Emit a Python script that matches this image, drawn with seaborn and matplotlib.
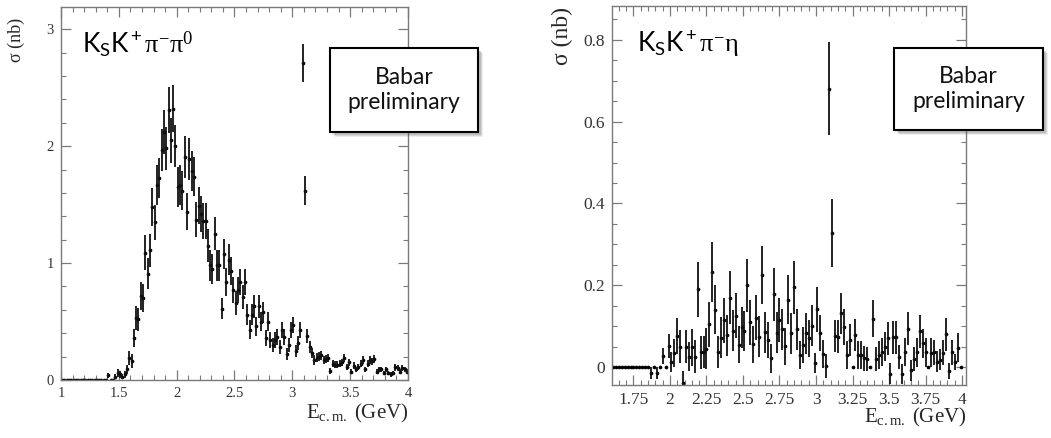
import numpy as np
import pandas as pd
import seaborn as sns
import matplotlib.pyplot as plt
from matplotlib.patches import Rectangle
from matplotlib.ticker import MultipleLocator, FuncFormatter

# K_S K+ pi- pi0 : 0.02 GeV bins, 1.0 - 4.0 GeV
kkpp_ecm = np.round(np.arange(1.01, 4.0, 0.02), 2)
kkpp_sigma = [0, 0, 0, 0, 0, 0, 0, 0, 0, 0, 0, 0, 0, 0, 0, 0, 0, 0, 0, 0,
              0.04, 0.0, 0.0, 0.03, 0.06, 0.05, 0.03, 0.05, 0.09, 0.19,
              0.16, 0.36, 0.53, 0.52, 0.72, 0.70, 1.09, 0.91, 1.11, 1.48,
              1.35, 1.67, 1.73, 1.97, 2.12, 1.98, 2.31, 2.05, 2.32, 2.00,
              1.65, 1.67, 1.62, 1.91, 1.44, 1.89, 1.79, 1.74, 1.37, 1.49,
              1.42, 1.36, 1.36, 1.15, 0.98, 0.95, 1.25, 0.98, 0.98, 0.61,
              1.08, 0.84, 1.03, 0.93, 0.77, 0.66, 0.77, 0.84, 0.71, 0.84,
              0.56, 0.43, 0.56, 0.63, 0.46, 0.63, 0.50, 0.58, 0.36, 0.50,
              0.34, 0.30, 0.34, 0.37, 0.28, 0.43, 0.37, 0.22, 0.30, 0.43,
              0.47, 0.25, 0.32, 0.43, 2.71, 1.62, 0.38, 0.28, 0.23, 0.17,
              0.19, 0.20, 0.21, 0.17, 0.18, 0.19, 0.08, 0.14, 0.13, 0.13,
              0.14, 0.15, 0.19, 0.11, 0.15, 0.07, 0.12, 0.09, 0.11, 0.14,
              0.17, 0.09, 0.14, 0.17, 0.16, 0.18, 0.07, 0.09, 0.09, 0.06,
              0.09, 0.06, 0.05, 0.06, 0.11, 0.10, 0.07, 0.10, 0.09, 0.07]
kkpp_err = [0, 0, 0, 0, 0, 0, 0, 0, 0, 0, 0, 0, 0, 0, 0, 0, 0, 0, 0, 0,
            0.02, 0, 0, 0.02, 0.03, 0.03, 0.02, 0.03, 0.04, 0.06,
            0.06, 0.08, 0.10, 0.10, 0.12, 0.12, 0.15, 0.13, 0.14, 0.16,
            0.15, 0.17, 0.17, 0.18, 0.19, 0.18, 0.20, 0.19, 0.20, 0.18,
            0.17, 0.17, 0.17, 0.18, 0.16, 0.18, 0.17, 0.17, 0.15, 0.16,
            0.15, 0.15, 0.15, 0.14, 0.13, 0.13, 0.14, 0.13, 0.13, 0.09,
            0.13, 0.12, 0.13, 0.12, 0.11, 0.10, 0.11, 0.11, 0.10, 0.11,
            0.09, 0.08, 0.09, 0.10, 0.08, 0.10, 0.08, 0.09, 0.07, 0.08,
            0.07, 0.06, 0.07, 0.07, 0.06, 0.07, 0.07, 0.05, 0.06, 0.07,
            0.07, 0.05, 0.06, 0.07, 0.16, 0.125, 0.06, 0.05, 0.045, 0.04,
            0.04, 0.04, 0.04, 0.035, 0.035, 0.035, 0.025, 0.03, 0.03, 0.03,
            0.03, 0.03, 0.035, 0.025, 0.03, 0.02, 0.03, 0.025, 0.025, 0.03,
            0.035, 0.025, 0.03, 0.035, 0.03, 0.035, 0.02, 0.025, 0.025, 0.02,
            0.025, 0.02, 0.02, 0.02, 0.03, 0.025, 0.02, 0.025, 0.025, 0.02]

# K_S K+ pi- eta : 0.02 GeV bins, 1.6 - 4.0 GeV
kkpe_ecm = np.round(np.arange(1.61, 4.0, 0.02), 2)
kkpe_sigma = [0, 0, 0, 0, 0, 0, 0, 0, 0, 0, 0, 0, 0,
              -0.014, 0.0, -0.014, 0.0, 0.027, 0.0, 0.051, 0.012, 0.034, 0.076,
              0.050, -0.040, 0.050, 0.025, 0.048, 0.025, 0.190, 0.036, 0.037, 0.045,
              0.105, 0.233, 0.140, 0.037, 0.072, 0.114, 0.078, 0.169, 0.089, 0.125,
              0.055, 0.097, 0.088, 0.200, 0.110, 0.056, 0.120, 0.074, 0.225, 0.085,
              0.066, 0.021, 0.178, 0.084, 0.115, 0.092, 0.051, 0.165, 0.083, 0.195,
              0.092, 0.029, 0.054, 0.083, 0.070, 0.101, 0.010, 0.141, 0.083, 0.032,
              0.002, 0.681, 0.328, 0.076, 0.074, 0.131, 0.098, 0.029, 0.066, 0.0,
              0.078, 0.029, 0.029, 0.021, 0.020, 0.0, 0.118, 0.020, 0.029, 0.037,
              0.050, 0.070, -0.016, 0.073, 0.073, 0.024, -0.017, 0.037, 0.094, -0.008,
              0.020, 0.036, 0.087, 0.058, 0.036, 0.0, 0.035, 0.036, 0.013, 0.018,
              0.035, 0.080, -0.010, 0.036, 0.012, 0.047, 0.0]
kkpe_err = [0, 0, 0, 0, 0, 0, 0, 0, 0, 0, 0, 0, 0,
            0.015, 0, 0.015, 0, 0.02, 0, 0.03, 0.025, 0.035, 0.043,
            0.04, 0.03, 0.04, 0.035, 0.045, 0.04, 0.067, 0.04, 0.04, 0.05,
            0.055, 0.073, 0.06, 0.04, 0.05, 0.055, 0.05, 0.065, 0.05, 0.055,
            0.045, 0.05, 0.05, 0.065, 0.055, 0.045, 0.055, 0.05, 0.07, 0.05,
            0.045, 0.035, 0.065, 0.05, 0.055, 0.05, 0.045, 0.06, 0.05, 0.065,
            0.05, 0.035, 0.045, 0.05, 0.045, 0.05, 0.025, 0.055, 0.045, 0.035,
            0.03, 0.114, 0.083, 0.04, 0.04, 0.05, 0.045, 0.035, 0.04, 0,
            0.04, 0.035, 0.035, 0.03, 0.03, 0, 0.045, 0.03, 0.035, 0.035,
            0.035, 0.04, 0.025, 0.04, 0.04, 0.03, 0.025, 0.035, 0.04, 0.025,
            0.03, 0.035, 0.04, 0.035, 0.035, 0, 0.035, 0.03, 0.025, 0.025,
            0.03, 0.04, 0.02, 0.03, 0.02, 0.035, 0]

kkpp = pd.DataFrame({"ecm": kkpp_ecm, "sigma": kkpp_sigma, "err": kkpp_err})
kkpe = pd.DataFrame({"ecm": kkpe_ecm, "sigma": kkpe_sigma, "err": kkpe_err})

sns.set_theme(style="ticks", rc={
    "xtick.direction": "in", "ytick.direction": "in",
    "xtick.top": True, "ytick.right": True,
    "axes.edgecolor": "#7a7a7a", "axes.linewidth": 1.0,
    "xtick.color": "#7a7a7a", "ytick.color": "#7a7a7a",
    "xtick.labelcolor": "#333333", "ytick.labelcolor": "#333333",
    "xtick.major.size": 7, "ytick.major.size": 7,
    "xtick.minor.size": 3.5, "ytick.minor.size": 3.5,
    "xtick.major.width": 0.9, "ytick.major.width": 0.9,
    "xtick.minor.width": 0.8, "ytick.minor.width": 0.8,
})
plt.rcParams["font.family"] = ["Liberation Serif", "DejaVu Serif"]
plt.rcParams["mathtext.fontset"] = "custom"
plt.rcParams["mathtext.rm"] = "Liberation Serif"
plt.rcParams["mathtext.it"] = "Liberation Serif:italic"
plt.rcParams["mathtext.sf"] = "Lato"

fig = plt.figure(figsize=(10.51, 4.38), dpi=100)
ax1 = fig.add_axes([0.0580, 0.1324, 0.3302, 0.8516])
ax2 = fig.add_axes([0.5823, 0.1210, 0.3368, 0.8653])

fmt = FuncFormatter(lambda v, p: f"{v:g}")


def draw(ax, df):
    ax.errorbar(df["ecm"], df["sigma"], yerr=df["err"], fmt="none",
                ecolor="#111111", elinewidth=1.3)
    sns.scatterplot(data=df, x="ecm", y="sigma", ax=ax, color="black",
                    s=7, linewidth=0, marker="o")
    ax.set_xlabel(r"E$_{\mathrm{c.m.}}$ (GeV)", loc="right")
    ax.set_ylabel(r"σ (nb)", loc="top")
    ax.xaxis.set_major_formatter(fmt)
    ax.yaxis.set_major_formatter(fmt)


draw(ax1, kkpp)
ax1.set_xlim(1, 4)
ax1.set_ylim(0, 3.19)
ax1.xaxis.set_major_locator(MultipleLocator(0.5))
ax1.xaxis.set_minor_locator(MultipleLocator(0.1))
ax1.yaxis.set_major_locator(MultipleLocator(1))
ax1.yaxis.set_minor_locator(MultipleLocator(0.2))
ax1.tick_params(labelsize=10.5, pad=5)
ax1.xaxis.label.set_size(15)
ax1.yaxis.label.set_size(13)
ax1.yaxis.set_label_coords(-0.104, 0.97)
ax1.xaxis.set_label_coords(1.0, -0.06)

draw(ax2, kkpe)
ax2.set_xlim(1.603, 4.027)
ax2.set_ylim(-0.044, 0.883)
ax2.xaxis.set_major_locator(MultipleLocator(0.25))
ax2.xaxis.set_minor_locator(MultipleLocator(0.05))
ax2.yaxis.set_major_locator(MultipleLocator(0.2))
ax2.yaxis.set_minor_locator(MultipleLocator(0.05))
ax2.tick_params(labelsize=12.5, pad=5)
ax2.xaxis.label.set_size(15)
ax2.yaxis.label.set_size(17)
ax2.yaxis.set_label_coords(-0.11, 0.997)
ax2.xaxis.set_label_coords(1.0, -0.055)

# reaction names
fig.text(0.078, 0.879, r"$\mathsf{K_S K^+}\mathrm{\pi^{-}\pi^{0}}$",
         fontsize=19, va="baseline", color="black")
fig.text(0.606, 0.879, r"$\mathsf{K_S K^+}\mathrm{\pi^{-}\eta}$",
         fontsize=19, va="baseline", color="black")

# "Babar preliminary" boxes with a soft shadow
for x0, y0, w, h in [(0.314, 0.6986, 0.1408, 0.1918), (0.8506, 0.7032, 0.1418, 0.1872)]:
    for k, a in [(5, 0.10), (4, 0.15), (3, 0.2)]:
        fig.patches.append(Rectangle((x0 + k / 1051, y0 - k / 438), w, h,
                                     transform=fig.transFigure, facecolor="#555555",
                                     edgecolor="none", alpha=a, zorder=5))
    fig.patches.append(Rectangle((x0, y0), w, h, transform=fig.transFigure,
                                 facecolor="white", edgecolor="black", lw=1.5, zorder=6))
    fig.text(x0 + w / 2, y0 + h / 2, "Babar\npreliminary", ha="center", va="center",
             fontsize=16.5, family=["Lato", "DejaVu Sans"], linespacing=1.25,
             color="#111111", zorder=7)

fig.savefig("out.png", dpi=100)
